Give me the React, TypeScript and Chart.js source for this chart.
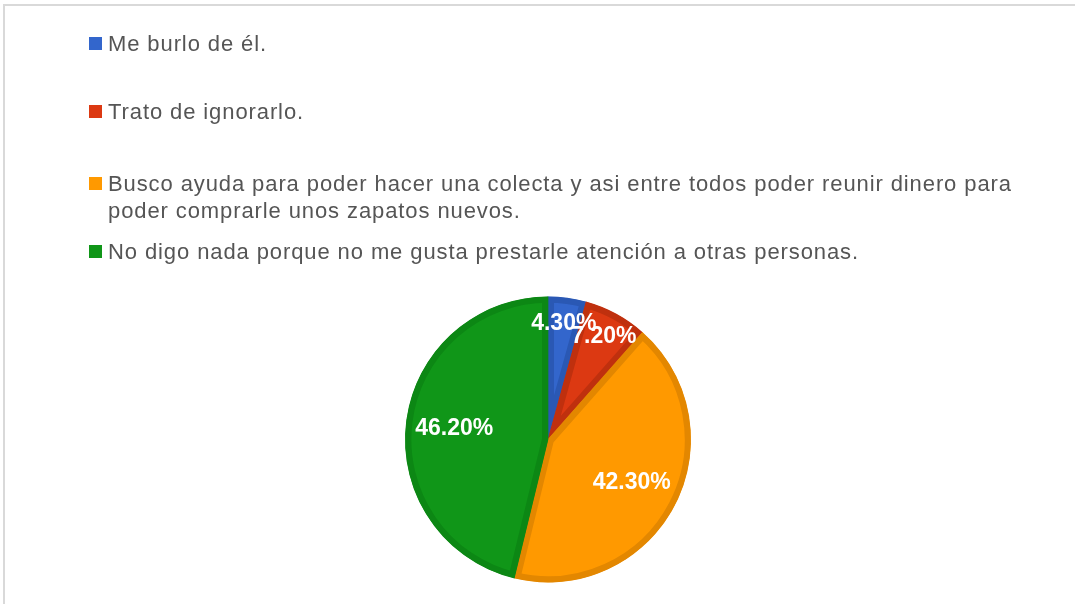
import React, { useEffect, useRef } from "react";
import { Chart, registerables } from "chart.js";

Chart.register(...registerables);

const categories = [
  "Me burlo de él.",
  "Trato de ignorarlo.",
  "Busco ayuda para poder hacer una colecta y asi entre todos poder reunir dinero para poder comprarle unos zapatos nuevos.",
  "No digo nada porque no me gusta prestarle atención a otras personas.",
];
const legendLines = [
  ["Me burlo de él."],
  ["Trato de ignorarlo."],
  [
    "Busco ayuda para poder hacer una colecta y asi entre todos poder reunir dinero para",
    "poder comprarle unos zapatos nuevos.",
  ],
  ["No digo nada porque no me gusta prestarle atención a otras personas."],
];
const values = [4.3, 7.2, 42.3, 46.2];
const fillColors = ["#3366CC", "#DC3912", "#FF9900", "#109618"];
const borderColors = ["#2A58B4", "#BF300E", "#E38700", "#0C8714"];

const legendTops = [30, 98, 170, 238];

const labelPlugin = {
  id: "sliceLabels",
  afterDatasetsDraw(chart: any) {
    const ctx = chart.ctx;
    const meta = chart.getDatasetMeta(0);
    ctx.save();
    ctx.fillStyle = "#FFFFFF";
    ctx.font = "bold 23px 'Liberation Sans', Arial, sans-serif";
    ctx.textAlign = "center";
    ctx.textBaseline = "middle";
    meta.data.forEach((arc: any, i: number) => {
      const p = arc.getProps(["x", "y", "startAngle", "endAngle", "outerRadius"], true);
      const mid = (p.startAngle + p.endAngle) / 2;
      const span = p.endAngle - p.startAngle;
      const f = span < 0.6 ? 0.82 : 0.66;
      const x = p.x + Math.cos(mid) * p.outerRadius * f;
      const y = p.y + Math.sin(mid) * p.outerRadius * f;
      ctx.fillText(values[i].toFixed(2) + "%", x, y);
    });
    ctx.restore();
  },
};

export default function App() {
  const ref = useRef<HTMLCanvasElement>(null);
  useEffect(() => {
    if (!ref.current) return;
    const chart = new Chart(ref.current, {
      type: "pie",
      data: {
        labels: categories,
        datasets: [
          {
            data: values,
            backgroundColor: fillColors,
            borderColor: borderColors,
            borderWidth: 6,
            borderAlign: "inner",
          } as any,
        ],
      },
      options: {
        responsive: false,
        animation: false,
        layout: { padding: { top: 296, bottom: 21, left: 405, right: 384 } },
        plugins: {
          legend: { display: false },
          tooltip: { enabled: false },
        },
      },
      plugins: [labelPlugin],
    });
    return () => chart.destroy();
  }, []);

  return (
    <div
      style={{
        position: "absolute",
        left: 0,
        top: 0,
        width: 1075,
        height: 604,
        background: "#FFFFFF",
        overflow: "hidden",
        fontFamily: "'Liberation Sans', Arial, sans-serif",
      }}
    >
      <div
        style={{
          position: "absolute",
          left: 3,
          top: 4,
          width: 1080,
          height: 610,
          borderTop: "2px solid #D9D9D9",
          borderLeft: "2px solid #D9D9D9",
        }}
      />
      <canvas ref={ref} width={1075} height={604} style={{ position: "absolute", left: 0, top: 0 }} />
      {legendLines.map((lines, i) => (
        <div
          key={i}
          style={{
            position: "absolute",
            left: 89,
            top: legendTops[i],
            color: "#555555",
            fontSize: 22,
            lineHeight: "27px",
            letterSpacing: "0.9px",
            whiteSpace: "nowrap",
          }}
        >
          <span
            style={{
              position: "absolute",
              left: 0,
              top: 7,
              width: 13,
              height: 13,
              background: fillColors[i],
            }}
          />
          {lines.map((l, j) => (
            <div key={j} style={{ paddingLeft: 19 }}>
              {l}
            </div>
          ))}
        </div>
      ))}
    </div>
  );
}
